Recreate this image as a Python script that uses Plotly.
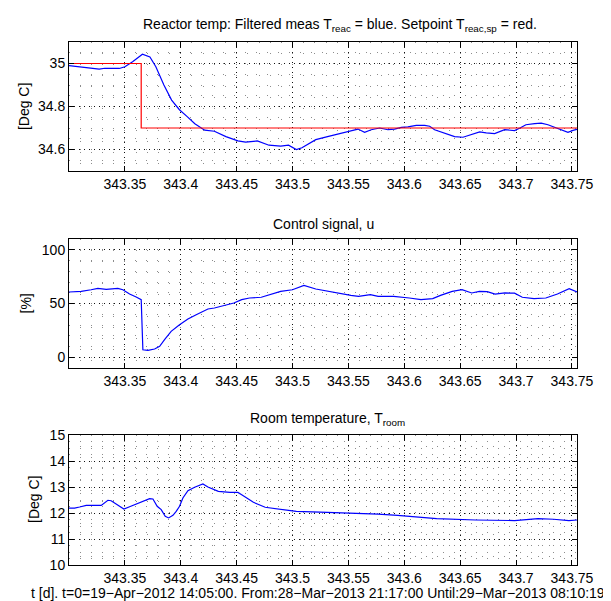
import plotly.graph_objects as go
from plotly.subplots import make_subplots

# ---------------- data ----------------
t_reac = [343.300, 343.315, 343.327, 343.332, 343.345, 343.350, 343.3569, 343.3657, 343.3724,
          343.3777, 343.3849, 343.3918, 343.3988, 343.4055, 343.4126, 343.4214, 343.4301,
          343.4404, 343.4511, 343.4580, 343.4685, 343.4789, 343.4894, 343.4964, 343.5034,
          343.5084, 343.5208, 343.5313, 343.5415, 343.5496, 343.5585, 343.5645, 343.5704,
          343.5779, 343.5853, 343.5913, 343.5973, 343.6032, 343.6107, 343.6182, 343.6227,
          343.6271, 343.6361, 343.6450, 343.6525, 343.6599, 343.6674, 343.6733, 343.6808,
          343.6898, 343.6986, 343.7035, 343.7088, 343.7166, 343.7225, 343.7285, 343.7345,
          343.7404, 343.7464, 343.7509, 343.7545]
T_reac = [34.99, 34.98, 34.974, 34.978, 34.977, 34.985, 35.008, 35.043, 35.03,
          34.985, 34.90, 34.83, 34.785, 34.754, 34.72, 34.69, 34.685,
          34.66, 34.64, 34.634, 34.64, 34.62, 34.616, 34.62, 34.60,
          34.608, 34.646, 34.66, 34.672, 34.685, 34.695, 34.68, 34.692,
          34.70, 34.692, 34.695, 34.703, 34.705, 34.712, 34.712, 34.708,
          34.692, 34.677, 34.66, 34.657, 34.67, 34.682, 34.677, 34.674,
          34.692, 34.688, 34.70, 34.715, 34.72, 34.723, 34.715, 34.704,
          34.692, 34.68, 34.689, 34.694]

t_sp = [343.300, 343.3646, 343.7545]
T_sp = [35.0, 34.7, 34.7]

t_u = [343.2999, 343.3109, 343.3198, 343.3258, 343.3333, 343.3408, 343.3437, 343.3482,
       343.3542, 343.3601, 343.3646, 343.3661, 343.3706, 343.3766, 343.3811, 343.3855,
       343.3914, 343.3989, 343.4064, 343.4138, 343.4243, 343.4301, 343.4404, 343.4475,
       343.4545, 343.4615, 343.4720, 343.4824, 343.4894, 343.4999, 343.5069, 343.5102,
       343.5208, 343.5313, 343.5417, 343.5522, 343.5591, 343.5696, 343.5766, 343.5905,
       343.6045, 343.6149, 343.6254, 343.6324, 343.6429, 343.6516, 343.6603, 343.6672,
       343.6742, 343.6812, 343.6900, 343.6986, 343.7056, 343.7160, 343.7266, 343.7370,
       343.7475, 343.7545]
u = [60.7, 61.3, 62.8, 64.1, 63.2, 63.5, 64.1, 62.8,
     58.8, 56.0, 53.6, 7.0, 6.4, 7.7, 10.2, 16.4,
     24.1, 30.3, 35.6, 39.6, 44.9, 45.8, 48.3, 50.5,
     53.6, 55.1, 55.8, 58.8, 61.3, 62.8, 66.0, 66.9,
     63.5, 61.3, 59.8, 57.6, 56.7, 58.2, 56.7, 56.7,
     55.1, 53.6, 54.5, 57.6, 61.3, 62.8, 59.8, 61.3,
     61.0, 58.8, 59.8, 59.6, 55.8, 54.5, 55.1, 58.8,
     63.8, 60.7]

t_room = [343.2999, 343.3050, 343.3095, 343.3154, 343.3288, 343.3318, 343.3348, 343.3377,
          343.3408, 343.3453, 343.3491, 343.3542, 343.3601, 343.3661, 343.3721, 343.3751,
          343.3789, 343.3825, 343.3861, 343.3891, 343.3930, 343.3959, 343.3989, 343.4019,
          343.4064, 343.4124, 343.4183, 343.4198, 343.4243, 343.4336, 343.4440, 343.4511,
          343.4545, 343.4650, 343.4755, 343.4894, 343.5034, 343.5243, 343.5591, 343.5766,
          343.5940, 343.6115, 343.6289, 343.6638, 343.6986, 343.7196, 343.7335, 343.7473,
          343.7545]
T_room = [12.19, 12.19, 12.23, 12.29, 12.29, 12.38, 12.49, 12.47,
          12.38, 12.26, 12.15, 12.24, 12.35, 12.45, 12.55, 12.54,
          12.26, 12.13, 11.87, 11.81, 11.91, 12.06, 12.26, 12.58,
          12.86, 12.99, 13.09, 13.12, 13.00, 12.83, 12.79, 12.79,
          12.70, 12.41, 12.22, 12.13, 12.06, 12.03, 12.00, 11.96,
          11.91, 11.85, 11.78, 11.73, 11.71, 11.78, 11.76, 11.71,
          11.73]

x_tickvals = [343.35, 343.40, 343.45, 343.50, 343.55, 343.60, 343.65, 343.70, 343.75]
x_ticktext = ["343.35", "343.4", "343.45", "343.5", "343.55", "343.6", "343.65", "343.7", "343.75"]
x_range = [343.300, 343.7545]

y1_tickvals = [34.6, 34.8, 35.0]
y1_ticktext = ["34.6", "34.8", "35"]
y2_tickvals = [0, 50, 100]
y2_ticktext = ["0", "50", "100"]
y3_tickvals = [10, 11, 12, 13, 14, 15]
y3_ticktext = ["10", "11", "12", "13", "14", "15"]

title1 = "Reactor temp: Filtered meas T<sub>reac</sub> = blue. Setpoint T<sub>reac,sp</sub> = red."
title2 = "Control signal, u"
title3 = "Room temperature, T<sub>room</sub>"
xlabel = ("t [d]. t=0=19\u2212Apr\u22122012 14:05:00. From:28\u2212Mar\u22122013 21:17:00 "
          "Until:29\u2212Mar\u22122013 08:10:19")
ylabels = ["[Deg C]", "[%]", "[Deg C]"]

# ---------------- layout geometry (pixels) ----------------
W, H = 611, 601
ML, MR, MT, MB = 61, 42, 34, 44
PW = W - ML - MR
PH = H - MT - MB
FONT = "Liberation Sans, Arial, Helvetica, sans-serif"
FS = 14

def py(y):  # pixel y -> paper y
    return (H - MB - y) / PH

def px(x):  # pixel x -> paper x
    return (x - ML) / PW

fig = make_subplots(rows=3, cols=1)
fig.add_trace(go.Scatter(x=t_reac, y=T_reac, mode="lines", line=dict(color="#0000ff", width=1.2),
                         showlegend=False), row=1, col=1)
fig.add_trace(go.Scatter(x=t_sp, y=T_sp, mode="lines", line=dict(color="#ff0000", width=1.2, shape="hv"),
                         showlegend=False), row=1, col=1)
fig.add_trace(go.Scatter(x=t_u, y=u, mode="lines", line=dict(color="#0000ff", width=1.2),
                         showlegend=False), row=2, col=1)
fig.add_trace(go.Scatter(x=t_room, y=T_room, mode="lines", line=dict(color="#0000ff", width=1.2),
                         showlegend=False), row=3, col=1)

domains = [(py(163), py(34)), (py(360), py(231)), (py(557), py(427))]
yinfo = [([34.5, 35.1], y1_tickvals, y1_ticktext, 0.05),
         ([-10, 110], y2_tickvals, y2_ticktext, 10),
         ([10, 15], y3_tickvals, y3_ticktext, 0.25)]

axis_common = dict(showline=True, linecolor="black", linewidth=1, mirror="allticks",
                   ticks="inside", ticklen=5, tickcolor="black", zeroline=False,
                   showgrid=True, gridcolor="#111111", gridwidth=1, griddash="1px,4px",
                   tickfont=dict(family=FONT, size=FS, color="black"))
minor_common = dict(showgrid=True, gridcolor="#8c8c8c", griddash="1px,10px", gridwidth=1, ticks="")

for i in range(3):
    xa = "xaxis" if i == 0 else f"xaxis{i+1}"
    ya = "yaxis" if i == 0 else f"yaxis{i+1}"
    rng, tv, tt, mdt = yinfo[i]
    fig.layout[xa].update(range=x_range, tickmode="array", tickvals=x_tickvals, ticktext=x_ticktext,
                          minor=dict(dtick=0.01, tick0=343.3, **minor_common),
                          **axis_common)
    fig.layout[ya].update(domain=list(domains[i]), range=rng, tickmode="array", tickvals=tv, ticktext=tt,
                          minor=dict(dtick=mdt, tick0=rng[0], **minor_common),
                          **axis_common)

ann = []
ann.append(dict(text=title1, x=px(332), y=py(17), xref="paper", yref="paper",
                xanchor="center", yanchor="middle", showarrow=False,
                font=dict(family=FONT, size=FS, color="black")))
ann.append(dict(text=title2, x=px(315), y=py(216), xref="paper", yref="paper",
                xanchor="center", yanchor="middle", showarrow=False,
                font=dict(family=FONT, size=FS, color="black")))
ann.append(dict(text=title3, x=px(319), y=py(411), xref="paper", yref="paper",
                xanchor="center", yanchor="middle", showarrow=False,
                font=dict(family=FONT, size=FS, color="black")))
ann.append(dict(text=xlabel, x=px(310), y=py(585), xref="paper", yref="paper",
                xanchor="center", yanchor="middle", showarrow=False,
                font=dict(family=FONT, size=FS, color="black")))
for lbl, xc, yc in zip(ylabels, [15.6, 17, 26], [98.5, 295.5, 492]):
    ann.append(dict(text=lbl, x=px(xc), y=py(yc), xref="paper", yref="paper", textangle=-90,
                    xanchor="center", yanchor="middle", showarrow=False,
                    font=dict(family=FONT, size=FS, color="black")))

fig.update_layout(width=W, height=H, margin=dict(l=ML, r=MR, t=MT, b=MB),
                  paper_bgcolor="white", plot_bgcolor="white", annotations=ann,
                  font=dict(family=FONT, size=FS, color="black"))

fig.write_html("out.html")
